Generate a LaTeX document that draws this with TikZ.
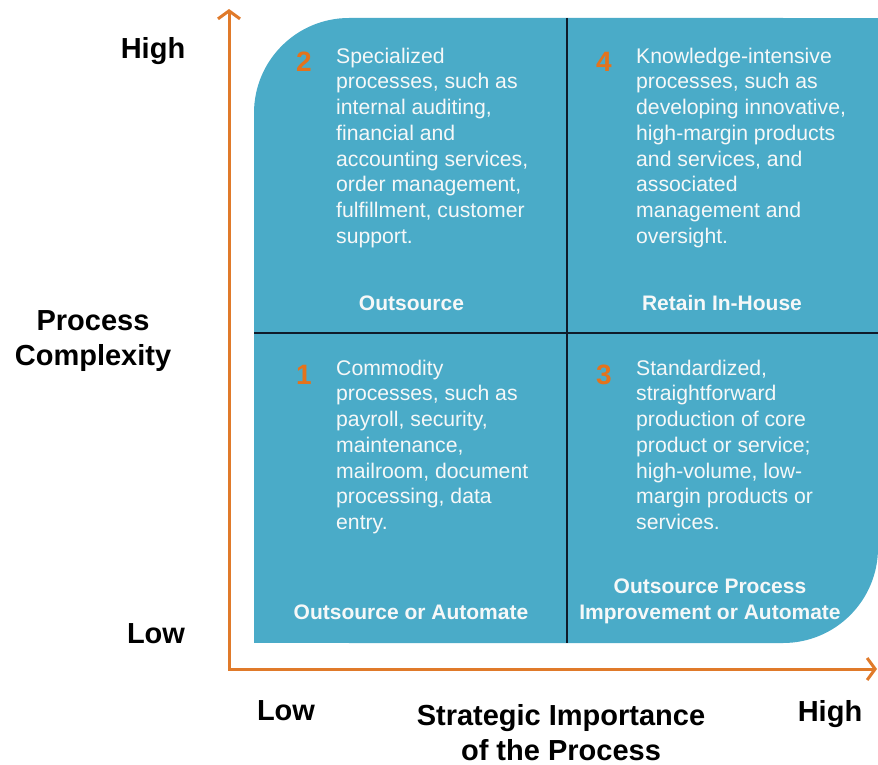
\documentclass[tikz,border=0pt]{standalone}
\usepackage{fontspec}
\setmainfont{Liberation Sans}
\usetikzlibrary{arrows.meta}
\definecolor{quadblue}{HTML}{4AABC8}
\definecolor{axisorange}{HTML}{E07A2A}
\definecolor{numorange}{HTML}{E4731C}
\definecolor{divline}{HTML}{0F1B2A}
\definecolor{paletext}{HTML}{F6F8F8}
\tikzset{
  body/.style={anchor=north west, inner sep=0pt, align=left, text=paletext,
    font=\fontsize{21.2}{25.7}\selectfont},
  num/.style={anchor=base, inner sep=0pt, text=numorange,
    font=\bfseries\fontsize{28}{30}\selectfont},
  verdict/.style={anchor=north, inner sep=0pt, align=center, text=paletext,
    font=\bfseries\fontsize{21}{26}\selectfont},
  axislabel/.style={anchor=north, inner sep=0pt, align=center, text=black,
    font=\bfseries\fontsize{29}{35}\selectfont},
  axisline/.style={draw=axisorange, line width=3pt,
    {Straight Barb[length=8pt,width=22pt]}-{Straight Barb[length=8pt,width=22pt]}},
  divider/.style={draw=divline, line width=2pt}
}
\newcommand{\bstrut}{\rule{0pt}{16pt}}
\newcommand{\astrut}{\rule{0pt}{22pt}}
\begin{document}
\begin{tikzpicture}[x=1pt,y=-1pt]
\useasboundingbox (0,0) rectangle (878,765);
% quadrant background
\fill[quadblue, rounded corners=95pt] (254,18) rectangle (878,643);
\fill[quadblue] (254,643) rectangle (420,480);
\fill[quadblue] (700,18) rectangle (878,180);
% dividers
\coordinate (vtop) at (567,18);
\coordinate (vbot) at (567,643);
\coordinate (hleft) at (254,333);
\coordinate (hright) at (878,333);
\draw[divider] (vtop) -- (vbot);
\draw[divider] (hleft) -- (hright);
% axes
\coordinate (origin) at (229,669);
\coordinate (ytip) at (229,9);
\coordinate (xtip) at (877,669);
\draw[axisline] (ytip) -- (origin) -- (xtip);
% quadrant 2
\node[num] (n2) at (304,72) {2};
\node[body] (t2) at (336,47) {\bstrut Specialized\\processes, such as\\internal auditing,\\financial and\\accounting services,\\order management,\\fulfillment, customer\\support.};
\node[verdict] (v2) at (411.5,294) {\bstrut Outsource};
% quadrant 4
\node[num] (n4) at (604,72) {4};
\node[body] (t4) at (636,47) {\bstrut Knowledge-intensive\\processes, such as\\developing innovative,\\high-margin products\\and services, and\\associated\\management and\\oversight.};
\node[verdict] (v4) at (722,294) {\bstrut Retain In-House};
% quadrant 1
\node[num] (n1) at (304,384) {1};
\node[body] (t1) at (336,359) {\bstrut Commodity\\processes, such as\\payroll, security,\\maintenance,\\mailroom, document\\processing, data\\entry.};
\node[verdict] (v1) at (411,603) {\bstrut Outsource or Automate};
% quadrant 3
\node[num] (n3) at (604,384) {3};
\node[body] (t3) at (636,359) {\bstrut Standardized,\\straightforward\\production of core\\product or service;\\high-volume, low-\\margin products or\\services.};
\node[verdict] (v3) at (710,577) {\bstrut Outsource Process\\Improvement or Automate};
% axis labels
\node[axislabel] (yhigh) at (153,36) {\astrut High};
\node[axislabel] (ytitle) at (93,308) {\astrut Process\\Complexity};
\node[axislabel] (ylow) at (156,621) {\astrut Low};
\node[axislabel] (xlow) at (286,698) {\astrut Low};
\node[axislabel] (xtitle) at (561,703) {\astrut Strategic Importance\\of the Process};
\node[axislabel] (xhigh) at (830,699) {\astrut High};
\end{tikzpicture}
\end{document}
